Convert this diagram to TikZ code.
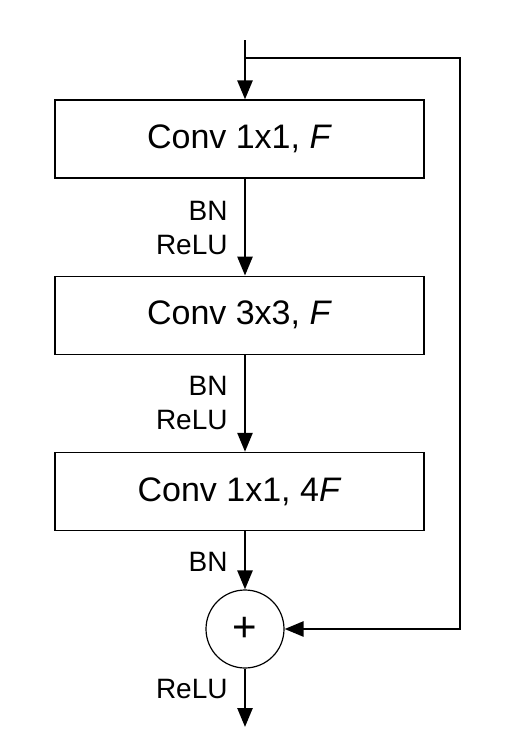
\documentclass[tikz,border=0pt]{standalone}
\usepackage{fontspec}
\setmainfont{Liberation Sans}
\usetikzlibrary{arrows.meta, positioning}

\begin{document}
\begin{tikzpicture}[node distance=97pt, thick,
                    >={Triangle[length=19pt, width=15pt]},
                    conv node/.style= {rectangle,
                      draw,
                      line width=1.2pt,
                      minimum width=369pt,
                      minimum height=78pt,
                      font=\fontsize{34}{38}\selectfont},
                    sum node/.style= {circle,
                      draw,
                      line width=1.2pt,
                      minimum size=78pt,
                      inner sep=0pt,
                      font=\fontsize{42}{44}\selectfont},
                    op label/.style= {align=right,
                      anchor=east,
                      inner sep=0pt,
                      font=\fontsize{28}{34}\selectfont},
                    flow/.style={->, line width=2.6pt}]

  \useasboundingbox (0,0) rectangle (506pt,-745pt);

  \node[conv node] (1) at (239.5pt,-139pt) {Conv 1x1, \textit{F}};
  \node[conv node] (2) [below=of 1] {Conv 3x3, \textit{F}};
  \node[conv node] (3) [below=of 2] {Conv 1x1, 4\textit{F}};
  \node[sum node] (4) at (245pt,-629pt) {+};
  \coordinate (in) at (245pt,-40pt);
  \coordinate (skip) at (460pt,-58pt);
  \coordinate (out) at (245pt,-727pt);

  \node[op label] (5) at (228pt,-228pt) {BN\\ReLU};
  \node[op label] (6) at (228pt,-403pt) {BN\\ReLU};
  \node[op label] (7) at (228pt,-562pt) {BN};
  \node[op label] (8) at (228pt,-689pt) {ReLU};

  \draw[flow] (in) -- (1.north -| in);
  \draw[flow] (1.south -| 4) -- (2.north -| 4);
  \draw[flow] (2.south -| 4) -- (3.north -| 4);
  \draw[flow] (3.south -| 4) -- (4);
  \draw[flow] (4) -- (out);
  \draw[flow] (in |- skip) -- (skip) |- (4);
\end{tikzpicture}
\end{document}
